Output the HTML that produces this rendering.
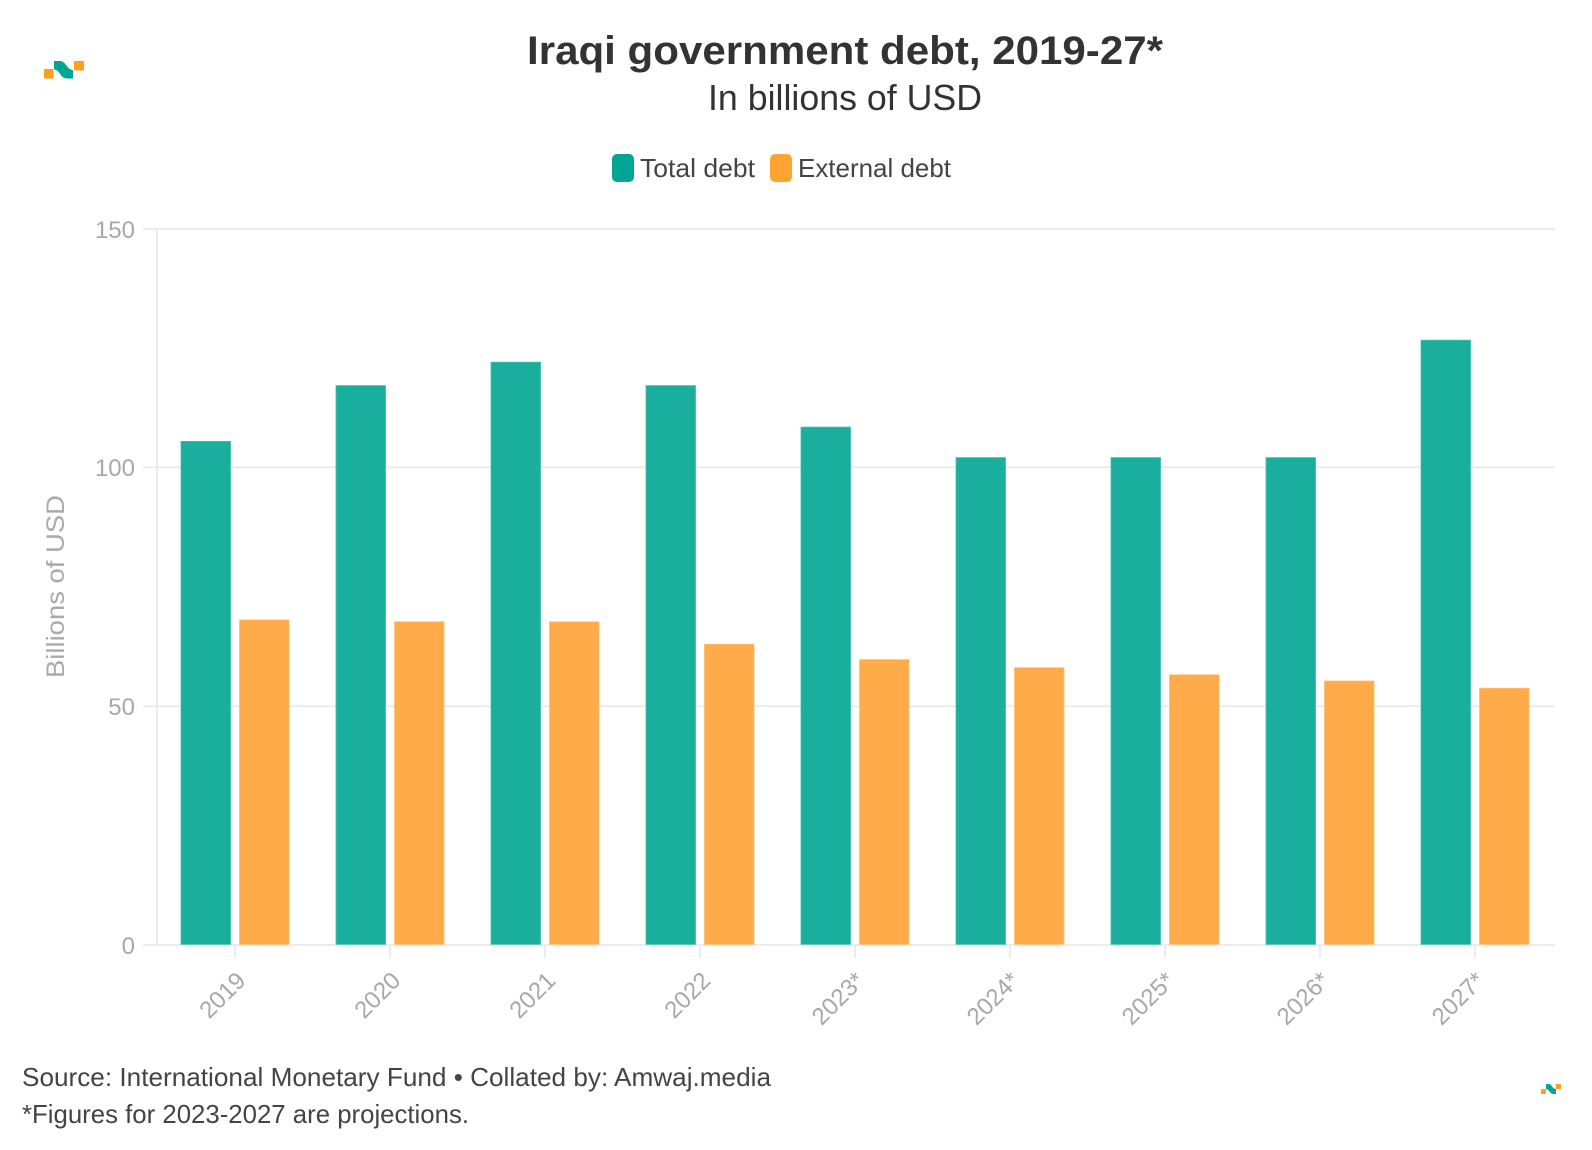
<!DOCTYPE html>
<html>
<head>
<meta charset="utf-8">
<style>
  html, body { margin: 0; padding: 0; background: #ffffff; }
  svg { display: block; }
  text { font-family: "Liberation Sans", "DejaVu Sans", sans-serif; }
</style>
</head>
<body>
<svg width="1592" height="1150" viewBox="0 0 1592 1150" xmlns="http://www.w3.org/2000/svg">
  <rect x="0" y="0" width="1592" height="1150" fill="#ffffff"/>

  <!-- top-left logo -->
  <rect x="44" y="69" width="9.5" height="9.5" fill="#ff9f1c"/>
  <path d="M54,61 L60,61 C66,61 67,70 73,70 L73,78.5 L67,78.5 C60,78.5 60,69.5 54,69.5 Z" fill="#00a693"/>
  <rect x="74" y="61" width="10" height="9.5" fill="#ff9f1c"/>

  <!-- title -->
  <text x="527" y="64" font-size="40" font-weight="bold" fill="#333333" textLength="636" lengthAdjust="spacingAndGlyphs">Iraqi government debt, 2019-27*</text>
  <text x="708" y="110" font-size="36" fill="#333333" textLength="274" lengthAdjust="spacingAndGlyphs">In billions of USD</text>

  <!-- legend -->
  <rect x="612" y="154" width="22" height="28" rx="5" ry="5" fill="#00a693"/>
  <text x="640" y="177" font-size="26" fill="#444444" textLength="115" lengthAdjust="spacingAndGlyphs">Total debt</text>
  <rect x="770" y="154" width="22" height="28" rx="5" ry="5" fill="#ffa433"/>
  <text x="798" y="177" font-size="26" fill="#444444" textLength="153" lengthAdjust="spacingAndGlyphs">External debt</text>

  <!-- gridlines -->
  <g stroke="#ececec" stroke-width="2">
    <line x1="143" y1="229" x2="1555" y2="229"/>
    <line x1="143" y1="467.3" x2="1555" y2="467.3"/>
    <line x1="143" y1="706.3" x2="1555" y2="706.3"/>
    <line x1="157" y1="229" x2="157" y2="945"/>
    <line x1="143" y1="945" x2="1555" y2="945"/>
  </g>
  <!-- x ticks -->
  <g stroke="#ececec" stroke-width="2">
    <line x1="235" y1="945" x2="235" y2="958"/>
    <line x1="390" y1="945" x2="390" y2="958"/>
    <line x1="545" y1="945" x2="545" y2="958"/>
    <line x1="700" y1="945" x2="700" y2="958"/>
    <line x1="855" y1="945" x2="855" y2="958"/>
    <line x1="1010" y1="945" x2="1010" y2="958"/>
    <line x1="1165" y1="945" x2="1165" y2="958"/>
    <line x1="1320" y1="945" x2="1320" y2="958"/>
    <line x1="1475" y1="945" x2="1475" y2="958"/>
  </g>

  <!-- y labels -->
  <g font-size="24" fill="#a8a8a8" text-anchor="end">
    <text x="135" y="238">150</text>
    <text x="135" y="476">100</text>
    <text x="135" y="715">50</text>
    <text x="135" y="954">0</text>
  </g>

  <!-- y axis title -->
  <text transform="translate(64,586.5) rotate(-90)" text-anchor="middle" font-size="25" fill="#aaaaaa" textLength="183" lengthAdjust="spacingAndGlyphs">Billions of USD</text>

  <!-- teal bars -->
  <g fill="#1aae9c" stroke="#3cc0ad" stroke-width="0.8">
    <rect x="181" y="441.4" width="49.5" height="503"/>
    <rect x="336" y="385.6" width="49.5" height="558.8"/>
    <rect x="491" y="362.2" width="49.5" height="582.2"/>
    <rect x="646" y="385.6" width="49.5" height="558.8"/>
    <rect x="801" y="427.1" width="49.5" height="517.3"/>
    <rect x="956" y="457.6" width="49.5" height="486.8"/>
    <rect x="1111" y="457.6" width="49.5" height="486.8"/>
    <rect x="1266" y="457.6" width="49.5" height="486.8"/>
    <rect x="1421" y="340.2" width="49.5" height="604.2"/>
  </g>
  <!-- orange bars -->
  <g fill="#ffab4a" stroke="#ffbd6e" stroke-width="0.8">
    <rect x="239.5" y="619.9" width="49.5" height="324.5"/>
    <rect x="394.5" y="621.8" width="49.5" height="322.6"/>
    <rect x="549.5" y="621.8" width="49.5" height="322.6"/>
    <rect x="704.5" y="644.3" width="49.5" height="300.1"/>
    <rect x="859.5" y="659.6" width="49.5" height="284.8"/>
    <rect x="1014.5" y="667.7" width="49.5" height="276.7"/>
    <rect x="1169.5" y="674.8" width="49.5" height="269.6"/>
    <rect x="1324.5" y="681.0" width="49.5" height="263.4"/>
    <rect x="1479.5" y="688.2" width="49.5" height="256.2"/>
  </g>

  <!-- x labels -->
  <g font-size="24" fill="#a8a8a8" text-anchor="end">
    <text transform="translate(247,982) rotate(-45)">2019</text>
    <text transform="translate(402,982) rotate(-45)">2020</text>
    <text transform="translate(557,982) rotate(-45)">2021</text>
    <text transform="translate(712,982) rotate(-45)">2022</text>
    <text transform="translate(866,982) rotate(-45)">2023*</text>
    <text transform="translate(1021,982) rotate(-45)">2024*</text>
    <text transform="translate(1176,982) rotate(-45)">2025*</text>
    <text transform="translate(1331,982) rotate(-45)">2026*</text>
    <text transform="translate(1486,982) rotate(-45)">2027*</text>
  </g>

  <!-- footer -->
  <text x="22" y="1086" font-size="26" fill="#444444" textLength="749" lengthAdjust="spacingAndGlyphs">Source: International Monetary Fund • Collated by: Amwaj.media</text>
  <text x="22" y="1123" font-size="26" fill="#444444" textLength="447" lengthAdjust="spacingAndGlyphs">*Figures for 2023-2027 are projections.</text>

  <!-- bottom-right logo -->
  <rect x="1541" y="1089" width="5" height="5" fill="#ff9f1c"/>
  <path d="M1546,1084 L1549,1084 C1552,1084 1552,1089 1556,1089 L1556,1094 L1553,1094 C1550,1094 1549,1089 1546,1089 Z" fill="#00a693"/>
  <rect x="1556" y="1084" width="5" height="5" fill="#ff9f1c"/>
</svg>
</body>
</html>
